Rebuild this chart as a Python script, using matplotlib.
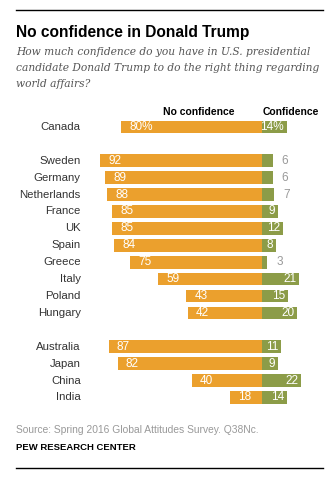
import numpy as np
import matplotlib.pyplot as plt
from matplotlib.lines import Line2D

# survey results (% of respondents)
countries = ["Canada", "Sweden", "Germany", "Netherlands", "France", "UK", "Spain",
             "Greece", "Italy", "Poland", "Hungary", "Australia", "Japan", "China", "India"]
no_conf = [80, 92, 89, 88, 85, 85, 84, 75, 59, 43, 42, 87, 82, 40, 18]
conf = [14, 6, 6, 7, 9, 12, 8, 3, 21, 15, 20, 11, 9, 22, 14]
# row slots, with blank rows between the groups
rows = [0, 2, 3, 4, 5, 6, 7, 8, 9, 10, 11, 13, 14, 15, 16]

orange = "#EBA02D"
green = "#8C9C48"
font = "Liberation Sans"

fig = plt.figure(figsize=(3.28, 4.8), dpi=100)
ax = fig.add_axes([16/328, 1 - 410/480, 307/328, 310/480])

ax.barh(rows, [-v for v in no_conf], height=0.75, color=orange)
ax.barh(rows, conf, height=0.75, color=green)

for y, name, n, c in zip(rows, countries, no_conf, conf):
    first = y == 0
    ax.text(-103, y, name, ha="right", va="center", fontsize=8.2, color="#333333", family=font)
    ax.text(-n + 4.5, y, f"{n}%" if first else str(n), ha="left", va="center",
            fontsize=8.5, color="white", family=font)
    lab = f"{c}%" if first else str(c)
    if c >= 8:
        ax.text(c - 1.5, y, lab, ha="right", va="center", fontsize=8.5, color="white", family=font)
    else:
        ax.text(c + 5, y, lab, ha="left", va="center", fontsize=8.5, color="#999999", family=font)

ax.text(-36, -0.9, "No confidence", ha="center", va="center", fontsize=7.5,
        fontweight="bold", color="black", family=font)
ax.text(0.5, -0.9, "Confidence", ha="left", va="center", fontsize=7.5,
        fontweight="bold", color="black", family=font)

ax.set_xlim((16 - 262) / 1.76, (323 - 262) / 1.76)
ax.set_ylim((410 - 127) / 16.9, (100 - 127) / 16.9)
ax.axis("off")

# title block
fig.text(16/328, 1 - 32/480, "No confidence in Donald Trump", ha="left", va="center",
         fontsize=11.2, fontweight="bold", family=font)
sub_lines = ["How much confidence do you have in U.S. presidential",
             "candidate Donald Trump to do the right thing regarding",
             "world affairs?"]
for i, line in enumerate(sub_lines):
    fig.text(16/328, 1 - (52 + 16 * i)/480, line, ha="left", va="center", fontsize=7.7,
             style="italic", family="DejaVu Serif", color="#555555")

fig.text(16/328, 1 - 430/480, "Source: Spring 2016 Global Attitudes Survey. Q38Nc.",
         ha="left", va="center", fontsize=7.4, color="#999999", family=font)
fig.text(16/328, 1 - 448/480, "PEW RESEARCH CENTER", ha="left", va="center",
         fontsize=6.8, fontweight="bold", family=font)

for yy in (10, 468):
    fig.add_artist(Line2D([16/328, 323/328], [1 - yy/480] * 2, color="black", lw=1))

fig.savefig("out.png", dpi=100)
